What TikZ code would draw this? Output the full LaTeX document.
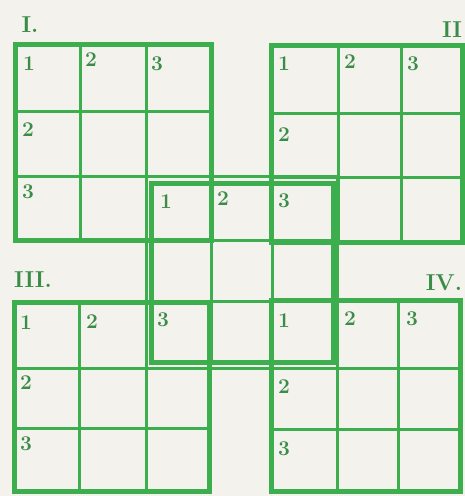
\documentclass[tikz,border=0pt]{standalone}
\usepackage{tikz}
\usetikzlibrary{positioning}
\definecolor{GridGreen}{HTML}{3DAE4E}
\definecolor{InkGreen}{HTML}{3A8C48}
\definecolor{PaperWhite}{HTML}{F4F2EC}

\begin{document}
\begin{tikzpicture}[
  x=1pt,y=-1pt,
  outer/.style={draw=GridGreen,line width=5pt,line join=miter},
  inner/.style={draw=GridGreen,line width=3pt},
  every node/.style={text=InkGreen,inner sep=0pt,
    font=\fontsize{21}{21}\selectfont\bfseries},
  roman/.style={font=\fontsize{23}{23}\selectfont\bfseries}
]
\fill[PaperWhite] (0,0) rectangle (465,496);
\useasboundingbox (0,0) rectangle (465,496);
% the four corner grids: x lines / y lines
\foreach \xa/\xb/\xc/\xd/\ya/\yb/\yc/\yd in {
    15/80/146/211/44/111/176/240,
    271/338/401/462/45/113/177/242,
    14/79/146/209/302/368/428/491,
    271/337/398/460/300/368/429/491}{
  \draw[inner] (\xb,\ya) -- (\xb,\yd) (\xc,\ya) -- (\xc,\yd)
               (\xa,\yb) -- (\xd,\yb) (\xa,\yc) -- (\xd,\yc);
  \draw[outer] (\xa,\ya) rectangle (\xd,\yd);
}
% middle grid
\draw[inner] (146,176) rectangle (337,368);
\draw[inner] (211,183) -- (211,362) (272,183) -- (272,362)
             (151,240) -- (333,240) (151,301) -- (333,301);
\draw[outer] (151,183) rectangle (333,362);
% grid numbers
\node[roman] (ti) at (30,25) {I.};
\node[roman] (tii) at (452,30) {II};
\node[roman] (tiii) at (33,280) {III.};
\node[roman] (tiv) at (444,283) {IV.};
% cell labels
\foreach \n/\x/\y/\t in {
    a1/29/64/1, a2/91/60/2, a3/157/64/3, a4/28/130/2, a5/28/192/3,
    b1/284/64/1, b2/350/62/2, b3/413/64/3, b4/284/135/2, b5/284/201/3,
    c1/166/202/1, c2/223/199/2,
    d1/26/323/1, d2/92/322/2, d3/163/320/3, d4/26/383/2, d5/26/444/3,
    e1/284/321/1, e2/350/319/2, e3/412/319/3, e4/284/387/2, e5/284/449/3}{
  \node (\n) at (\x,\y) {\t};
}
\end{tikzpicture}
\end{document}
